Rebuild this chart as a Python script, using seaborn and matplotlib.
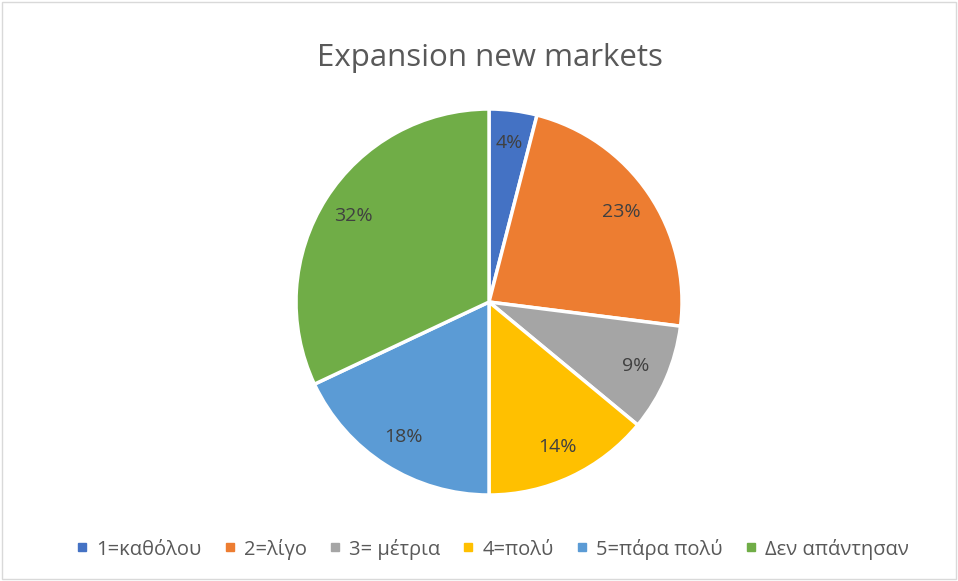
import matplotlib
matplotlib.use("Agg")
import matplotlib.pyplot as plt
from matplotlib.lines import Line2D
from matplotlib.patches import Rectangle
import seaborn as sns

categories = ["1=καθόλου", "2=λίγο", "3= μέτρια", "4=πολύ", "5=πάρα πολύ", "Δεν απάντησαν"]
shares = [4, 23, 9, 14, 18, 32]
colors = ["#4472C4", "#ED7D31", "#A5A5A5", "#FFC000", "#5B9BD5", "#70AD47"]
title = "Expansion new markets"

sns.set_theme(style="white")
plt.rcParams['font.family'] = ['Open Sans', 'DejaVu Sans']

fig = plt.figure(figsize=(9.58, 5.81), dpi=100)
ax = fig.add_axes([0.309, 0.148, 386 / 958, 386 / 581])

wedges, texts, autotexts = ax.pie(
    shares, colors=colors, startangle=90, counterclock=False,
    autopct=lambda p: f"{p:.0f}%", pctdistance=0.83,
    wedgeprops=dict(edgecolor="white", linewidth=2.5),
    textprops=dict(color="#404040", fontsize=14))
ax.set_xlim(-1, 1)
ax.set_ylim(-1, 1)
ax.set_aspect("equal")

fig.text(0.511, 0.9, title, ha="center", va="center", fontsize=22.5, color="#595959")

handles = [Line2D([], [], marker="s", linestyle="", markersize=6,
                  markerfacecolor=c, markeredgecolor=c) for c in colors]
fig.legend(handles, categories, loc="center", bbox_to_anchor=(0.514, 0.055), ncol=6,
           frameon=False, fontsize=14.5, handlelength=0.6, handletextpad=0.4,
           columnspacing=1.1, labelcolor="#595959")

fig.patches.append(Rectangle((0.002, 0.003), 0.996, 0.994, transform=fig.transFigure,
                             fill=False, edgecolor="#D9D9D9", linewidth=1))

fig.savefig("out.png", dpi=100, facecolor="white")
